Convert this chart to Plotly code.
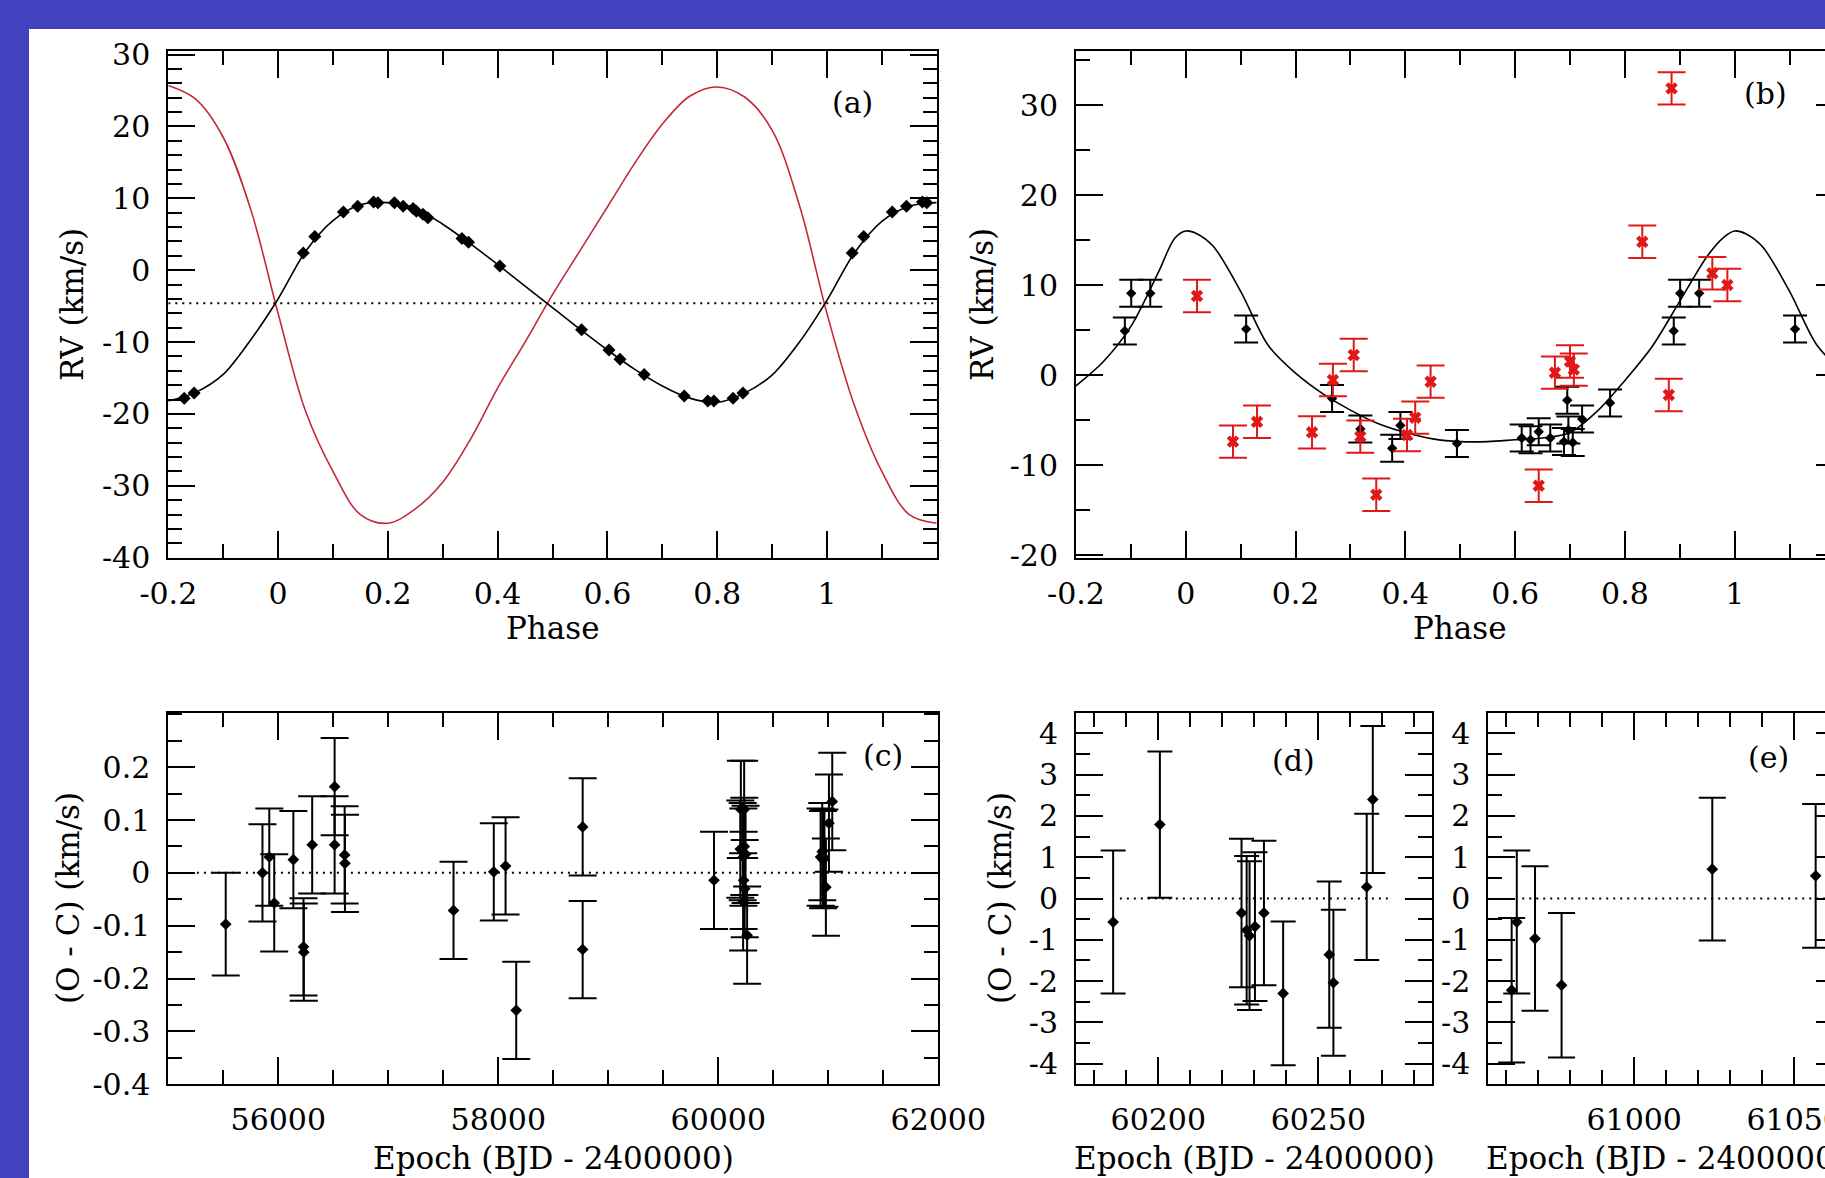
import plotly.graph_objects as go

# ---------------- data ----------------
# Panel (a): model radial-velocity curves
a_model_phase = [-0.20, -0.15, -0.10, -0.05, 0.00, 0.05, 0.10, 0.15, 0.20, 0.25, 0.30, 0.35, 0.40, 0.45,
                 0.50, 0.55, 0.60, 0.65, 0.70, 0.75, 0.80, 0.85, 0.90, 0.95, 1.00, 1.05, 1.10, 1.15, 1.20]
a_model_primary = [-18.2, -17.0, -14.5, -9.7, -4.0, 2.6, 6.9, 9.1, 9.4, 8.6, 6.4, 3.7, 0.8, -2.2,
                   -5.2, -8.2, -11.1, -13.8, -16.1, -17.8, -18.4, -17.1, -14.6, -10.0, -4.2, 2.4, 6.8, 8.9, 9.4]
a_model_secondary = [25.7, 23.8, 18.5, 8.5, -6.0, -19.6, -28.0, -34.0, -35.2, -33.2, -29.5, -23.6, -16.4, -10.0,
                     -3.4, 2.7, 8.8, 14.9, 20.3, 24.2, 25.5, 24.1, 19.5, 9.0, -6.0, -18.8, -28.0, -34.0, -35.2]
a_gamma = -4.6
# Panel (a): observed primary velocities
a_obs_phase = [0.046, 0.067, 0.119, 0.145, 0.174, 0.182, 0.212, 0.228, 0.246, 0.252, 0.264, 0.273,
               0.335, 0.347, 0.404, 0.553, 0.603, 0.623, 0.667, 0.740, 0.783, 0.794, 0.829, 0.847]
a_obs_rv = [2.4, 4.7, 8.1, 8.9, 9.5, 9.4, 9.4, 8.9, 8.6, 8.2, 7.8, 7.3,
            4.4, 3.9, 0.6, -8.3, -11.1, -12.4, -14.5, -17.5, -18.2, -18.2, -17.8, -17.1]

# Panel (b): model curve
b_model_phase = [-0.20, -0.15, -0.10, -0.05, -0.02, 0.00, 0.02, 0.05, 0.10, 0.15, 0.20, 0.25, 0.30, 0.35, 0.40,
                 0.45, 0.50, 0.55, 0.60, 0.65, 0.70, 0.75, 0.80, 0.85, 0.90, 0.95, 0.98, 1.00, 1.02, 1.05,
                 1.10, 1.15, 1.20]
b_model_rv = [-1.2, 1.5, 5.4, 11.4, 15.2, 16.0, 15.7, 14.3, 9.3, 3.3, 0.2, -2.1, -3.9, -5.4, -6.4,
              -7.1, -7.4, -7.4, -7.2, -7.0, -6.4, -4.0, -0.6, 3.2, 8.2, 13.2, 15.3, 16.0, 15.7, 14.3,
              9.3, 3.3, 0.2]
# Panel (b): black points (repeated one cycle outside [0,1])
b_blk_phase = [0.110, 0.2665, 0.318, 0.376, 0.391, 0.494, 0.612, 0.628, 0.643, 0.664, 0.689, 0.695,
               0.697, 0.705, 0.722, 0.773, 0.889, 0.9006, 0.9353]
b_blk_rv = [5.1, -2.6, -6.0, -8.15, -5.6, -7.6, -7.0, -7.2, -6.3, -7.0, -7.4, -2.8,
            -6.1, -7.5, -4.9, -3.1, 4.9, 9.07, 9.07]
b_blk_err = [1.5] * 19
# Panel (b): red points
b_red_phase = [0.0204, 0.086, 0.1298, 0.230, 0.268, 0.306, 0.318, 0.347, 0.403, 0.418, 0.446,
               0.643, 0.6725, 0.700, 0.707, 0.8317, 0.880, 0.885, 0.9593, 0.9867]
b_red_rv = [8.78, -7.4, -5.2, -6.37, -0.56, 2.22, -6.85, -13.3, -6.67, -4.74, -0.74,
            -12.3, 0.26, 1.5, 0.6, 14.8, -2.22, 31.85, 11.3, 10.0]
b_red_err = [1.8] * 20

# Panel (c): O - C residuals
c_epoch = [55522, 55856, 55918, 55963, 56137, 56229, 56232, 56308, 56512, 56512, 56603, 56606,
           57593, 57959, 58066, 58163, 58767, 58767, 59961,
           60200, 60205, 60222, 60226, 60228, 60230, 60235, 60236, 60240, 60248, 60262,
           60930, 60945, 60952, 60965, 60978, 61006, 61036]
c_oc = [-0.097, 0.000, 0.030, -0.057, 0.025, -0.140, -0.150, 0.053, 0.163, 0.053, 0.034, 0.018,
        -0.071, 0.002, 0.013, -0.260, 0.087, -0.145, -0.014,
        0.045, 0.120, 0.040, -0.055, 0.030, -0.014, 0.120, 0.050, -0.030, 0.035, -0.118,
        0.030, 0.040, 0.025, 0.028, -0.027, 0.094, 0.135]
c_err = [0.097] + [0.092] * 36
c_zero = [55260, 61740]

# Panel (d)
d_epoch = [60185.9, 60200.5, 60226.0, 60227.6, 60228.5, 60230.2, 60233.0, 60239.0, 60253.4, 60254.7, 60265.1, 60267.0]
d_oc = [-0.57, 1.79, -0.35, -0.77, -0.90, -0.68, -0.35, -2.30, -1.36, -2.04, 0.28, 2.40]
d_err = [1.73, 1.77, 1.80, 1.80, 1.80, 1.80, 1.75, 1.74, 1.77, 1.77, 1.77, 1.78]
d_zero = [60188, 60273]

# Panel (e)
e_epoch = [60961.7, 60963.3, 60969.0, 60977.3, 61024.4, 61056.7]
e_oc = [-2.22, -0.57, -0.97, -2.10, 0.71, 0.55]
e_err = [1.75, 1.73, 1.75, 1.75, 1.73, 1.74]
e_zero = [60965, 61060]

# tick labels
phase_ticks = [-0.2, 0, 0.2, 0.4, 0.6, 0.8, 1]
phase_text = ["-0.2", "0", "0.2", "0.4", "0.6", "0.8", "1"]
a_rv_ticks = [-40, -30, -20, -10, 0, 10, 20, 30]
a_rv_text = ["-40", "-30", "-20", "-10", "0", "10", "20", "30"]
b_rv_ticks = [-20, -10, 0, 10, 20, 30]
b_rv_text = ["-20", "-10", "0", "10", "20", "30"]
c_x_ticks = [56000, 58000, 60000, 62000]
c_x_text = ["56000", "58000", "60000", "62000"]
c_y_ticks = [-0.4, -0.3, -0.2, -0.1, 0, 0.1, 0.2]
c_y_text = ["-0.4", "-0.3", "-0.2", "-0.1", "0", "0.1", "0.2"]
d_x_ticks = [60200, 60250]
d_x_text = ["60200", "60250"]
e_x_ticks = [61000, 61050]
e_x_text = ["61000", "61050"]
de_y_ticks = [-4, -3, -2, -1, 0, 1, 2, 3, 4]
de_y_text = ["-4", "-3", "-2", "-1", "0", "1", "2", "3", "4"]

# ---------------- layout helpers ----------------
W, H = 1825, 1178
FONT = "DejaVu Serif"
BLUE = "#4242bf"
RED_LINE = "#c4283a"
RED_PT = "#e01818"


def fx(px):
    return px / W


def fy(py):
    return 1 - py / H


def dom_x(a, b):
    return [fx(a), min(1.0, fx(b))]


def dom_y(top, bottom):
    return [fy(bottom), fy(top)]


def fold(ph, val, lo=-0.2, hi=1.2):
    xs, ys = [], []
    for p, v in zip(ph, val):
        for s in (-1, 0, 1):
            q = p + s
            if lo <= q <= hi:
                xs.append(q)
                ys.append(v)
    return xs, ys


def fold_err(ph, val, err, lo=-0.2, hi=1.2):
    xs, ys, es = [], [], []
    for p, v, e in zip(ph, val, err):
        for s in (-1, 0, 1):
            q = p + s
            if lo <= q <= hi:
                xs.append(q)
                ys.append(v)
                es.append(e)
    return xs, ys, es


fig = go.Figure()

# ---- panel (a)
fig.add_trace(go.Scatter(x=[-0.2, 1.2], y=[a_gamma, a_gamma], mode="lines",
                         line=dict(color="black", width=2, dash="2px,5px"),
                         xaxis="x", yaxis="y", showlegend=False, hoverinfo="skip"))
fig.add_trace(go.Scatter(x=a_model_phase, y=a_model_secondary, mode="lines",
                         line=dict(color=RED_LINE, width=1.6, shape="spline", smoothing=1.0),
                         xaxis="x", yaxis="y", showlegend=False))
fig.add_trace(go.Scatter(x=a_model_phase, y=a_model_primary, mode="lines",
                         line=dict(color="black", width=1.6, shape="spline", smoothing=0.9),
                         xaxis="x", yaxis="y", showlegend=False))
ax_, ay_ = fold(a_obs_phase, a_obs_rv)
fig.add_trace(go.Scatter(x=ax_, y=ay_, mode="markers",
                         marker=dict(symbol="diamond", size=10, color="black"),
                         xaxis="x", yaxis="y", showlegend=False))

# ---- panel (b)
fig.add_trace(go.Scatter(x=b_model_phase, y=b_model_rv, mode="lines",
                         line=dict(color="black", width=1.6, shape="spline", smoothing=0.9),
                         xaxis="x2", yaxis="y2", showlegend=False))
bx, by, be = fold_err(b_blk_phase, b_blk_rv, b_blk_err)
fig.add_trace(go.Scatter(x=bx, y=by, mode="markers",
                         marker=dict(symbol="diamond", size=8, color="black"),
                         error_y=dict(type="data", array=be, visible=True, color="black", thickness=2, width=12),
                         xaxis="x2", yaxis="y2", showlegend=False))
fig.add_trace(go.Scatter(x=b_red_phase, y=b_red_rv, mode="markers",
                         marker=dict(symbol="x", size=11, color=RED_PT, line=dict(width=0)),
                         error_y=dict(type="data", array=b_red_err, visible=True, color=RED_PT, thickness=2, width=14),
                         xaxis="x2", yaxis="y2", showlegend=False))
# carrier traces for right-hand tick stubs of clipped panels
fig.add_trace(go.Scatter(x=[None], y=[None], xaxis="x2", yaxis="y6", showlegend=False))
fig.add_trace(go.Scatter(x=[None], y=[None], xaxis="x5", yaxis="y7", showlegend=False))

# ---- panels (c), (d), (e)
for xs, ys, es, zero, xa, ya, cw in [
    (c_epoch, c_oc, c_err, c_zero, "x3", "y3", 14),
    (d_epoch, d_oc, d_err, d_zero, "x4", "y4", 12.5),
    (e_epoch, e_oc, e_err, e_zero, "x5", "y5", 13.5),
]:
    fig.add_trace(go.Scatter(x=zero, y=[0, 0], mode="lines",
                             line=dict(color="black", width=2, dash="2px,5px"),
                             xaxis=xa, yaxis=ya, showlegend=False, hoverinfo="skip"))
    fig.add_trace(go.Scatter(x=xs, y=ys, mode="markers",
                             marker=dict(symbol="diamond", size=9, color="black"),
                             error_y=dict(type="data", array=es, visible=True, color="black", thickness=2, width=cw),
                             xaxis=xa, yaxis=ya, showlegend=False))

tickfont = dict(family=FONT, size=30, color="black")


def axis(domain, rng, tickvals, ticktext, minor_dtick, minor_tick0, anchor, mirror=True, standoff=6):
    return dict(domain=domain, range=rng, anchor=anchor, automargin=False,
                showline=True, linewidth=2, linecolor="black",
                mirror="ticks" if mirror else False, ticks="inside", ticklen=27, tickwidth=2, tickcolor="black",
                tickmode="array", tickvals=tickvals, ticktext=ticktext, tickfont=tickfont,
                showgrid=False, zeroline=False, ticklabelstandoff=standoff, ticklabeloverflow="allow",
                minor=dict(ticks="inside", ticklen=14, tickwidth=2, tickcolor="black",
                           tickmode="linear", dtick=minor_dtick, tick0=minor_tick0, showgrid=False))


top_y = dom_y(51, 557.7)
bot_y = dom_y(712.7, 1084.3)

layout = dict(
    width=W, height=H, autosize=False,
    margin=dict(l=0, r=0, t=0, b=0, pad=0, autoexpand=False),
    paper_bgcolor=BLUE, plot_bgcolor="white",
    showlegend=False,
    xaxis=axis(dom_x(168.3, 936.7), [-0.2, 1.2], phase_ticks, phase_text, 0.1, 0, "y", standoff=8),
    yaxis=axis(top_y, [-40, 30.5], a_rv_ticks, a_rv_text, 2, 0, "x", standoff=10),
    xaxis2=axis(dom_x(1076, 1825), [-0.2, -0.2 + (1825 - 1076) / 548.9], phase_ticks, phase_text, 0.1, 0, "y2",
                standoff=8),
    yaxis2=axis(top_y, [-20.3, 36], b_rv_ticks, b_rv_text, 5, 0, "x2", mirror=False, standoff=10),
    xaxis3=axis(dom_x(168.3, 938.3), [55000, 62000], c_x_ticks, c_x_text, 500, 0, "y3", standoff=8),
    yaxis3=axis(bot_y, [-0.4, 0.303], c_y_ticks, c_y_text, 0.05, 0, "x3", standoff=10),
    xaxis4=axis(dom_x(1076, 1431.7), [60174.3, 60285.4], d_x_ticks, d_x_text, 10, 0, "y4", standoff=8),
    yaxis4=axis(bot_y, [-4.5, 4.5], de_y_ticks, de_y_text, 0.5, 0, "x4", standoff=10),
    xaxis5=axis(dom_x(1488.3, 1825), [60954.4, 60954.4 + (1825 - 1488.3) / 3.2], e_x_ticks, e_x_text, 10, 0, "y5",
                standoff=8),
    yaxis5=axis(bot_y, [-4.5, 4.5], de_y_ticks, de_y_text, 0.5, 0, "x5", mirror=False, standoff=10),
    yaxis6=dict(overlaying="y2", side="right", anchor="free", position=1.0, range=[-20.3, 36], automargin=False,
                tickmode="array", tickvals=b_rv_ticks, ticks="inside", ticklen=9, tickwidth=2, tickcolor="black",
                showticklabels=False, showline=False, showgrid=False, zeroline=False),
    yaxis7=dict(overlaying="y5", side="right", anchor="free", position=1.0, range=[-4.5, 4.5], automargin=False,
                tickmode="array", tickvals=de_y_ticks, ticks="inside", ticklen=9, tickwidth=2, tickcolor="black",
                showticklabels=False, showline=False, showgrid=False, zeroline=False),
    shapes=[dict(type="rect", xref="paper", yref="paper", x0=fx(29), x1=1.0, y0=0.0, y1=fy(29),
                 fillcolor="white", line=dict(width=0), layer="below")],
)


def ann(text, px, py, angle=0, size=31):
    return dict(text=text, x=fx(px), y=fy(py), xref="paper", yref="paper", showarrow=False,
                xanchor="center", yanchor="middle", textangle=angle,
                font=dict(family=FONT, size=size, color="black"))


layout["annotations"] = [
    ann("RV (km/s)", 72, 305, -90),
    ann("RV (km/s)", 982, 305, -90),
    ann("(O - C) (km/s)", 68, 898, -90),
    ann("(O - C) (km/s)", 1000, 898, -90),
    ann("Phase", 552.5, 628),
    ann("Phase", 1460, 628),
    ann("Epoch (BJD - 2400000)", 553, 1158),
    ann("Epoch (BJD - 2400000)", 1254, 1158),
    ann("Epoch (BJD - 2400000)", 1666, 1158),
    ann("(a)", 852, 103, size=30),
    ann("(b)", 1765, 93, size=30),
    ann("(c)", 883, 755, size=30),
    ann("(d)", 1293, 760, size=30),
    ann("(e)", 1768, 757, size=30),
]

fig.update_layout(**layout)
fig.write_html("out.html", config={"displayModeBar": False},
               post_script="document.body.style.margin='0';document.body.style.overflow='hidden';")
